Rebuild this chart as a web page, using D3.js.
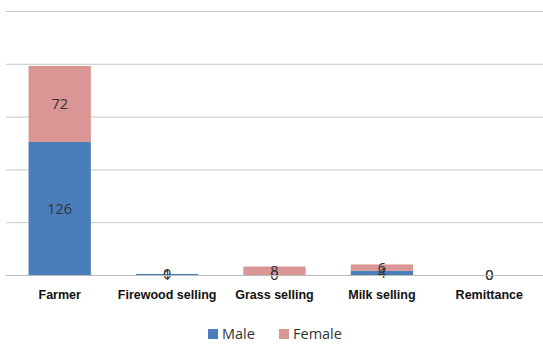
<!DOCTYPE html>
<html>
<head>
<meta charset="utf-8">
<script src="https://cdn.jsdelivr.net/npm/d3@7"></script>
<style>
    body { margin: 0; background: #fff; }
    svg { font-family: "Open Sans", "Liberation Sans", sans-serif; }
    .grid line { stroke: #c8c8c8; stroke-width: 1; }
    .cat-label { font-size: 12.5px; fill: #111; font-weight: 600; }
    .seg-label { font-size: 14.5px; fill: #333; }
    .legend text { font-size: 14.5px; fill: #333; }
</style>
</head>
<body>
<div id="chart"></div>
<script>
// data
const categories = ['Farmer', 'Firewood selling', 'Grass selling', 'Milk selling', 'Remittance'];
const male = [126, 1, 0, 4, 0];
const female = [72, 0, 8, 6, 0];
const seriesNames = ['Male', 'Female'];
const yTicks = [0, 50, 100, 150, 200, 250];

const colors = { Male: '#4a7ebb', Female: '#d99694' };

const width = 543, height = 348;
const margin = { top: 11, right: 0, bottom: 73, left: 6 };
const innerW = width - margin.left - margin.right;
const innerH = height - margin.top - margin.bottom;

const rows = categories.map((c, i) => ({ category: c, Male: male[i], Female: female[i] }));
const stacked = d3.stack().keys(seriesNames)(rows);

const svg = d3.select('#chart')
    .append('svg')
    .attr('width', width)
    .attr('height', height);

const chart = svg.append('g')
    .attr('transform', `translate(${margin.left},${margin.top})`);

const x = d3.scaleBand()
    .domain(categories)
    .range([0, innerW])
    .paddingInner(0.42)
    .paddingOuter(0.21);

const y = d3.scaleLinear()
    .domain([0, 250])
    .range([innerH, 0]);

// gridlines only, no axis line
chart.append('g')
    .attr('class', 'grid')
    .call(d3.axisLeft(y).tickValues(yTicks).tickSize(-innerW).tickFormat(''))
    .call(g => g.select('.domain').remove());

// bars
const layers = chart.selectAll('.layer')
    .data(stacked)
    .join('g')
    .attr('class', 'layer')
    .attr('fill', d => colors[d.key]);

layers.selectAll('rect')
    .data(d => d)
    .join('rect')
    .attr('x', d => x(d.data.category))
    .attr('y', d => y(d[1]))
    .attr('width', x.bandwidth())
    .attr('height', d => y(d[0]) - y(d[1]));

// value labels centered in each segment
stacked.forEach(layer => {
    chart.selectAll(null)
        .data(layer)
        .join('text')
        .attr('class', 'seg-label')
        .attr('x', d => x(d.data.category) + x.bandwidth() / 2)
        .attr('y', d => (y(d[0]) + y(d[1])) / 2)
        .attr('dy', '0.35em')
        .attr('text-anchor', 'middle')
        .text(d => d[1] - d[0]);
});

// category axis
const xAxisG = chart.append('g')
    .attr('transform', `translate(0,${innerH})`)
    .call(d3.axisBottom(x).tickSize(0).tickPadding(15));
xAxisG.select('.domain').attr('stroke', '#bbb');
xAxisG.selectAll('text').attr('class', 'cat-label').attr('font-family', null).attr('font-size', null);

// legend
const legend = svg.append('g').attr('class', 'legend')
    .attr('transform', 'translate(208,334)');
const items = [{ name: 'Male', x: 0 }, { name: 'Female', x: 71 }];
items.forEach(it => {
    legend.append('rect')
        .attr('x', it.x)
        .attr('y', -5)
        .attr('width', 10)
        .attr('height', 10)
        .attr('fill', colors[it.name]);
    legend.append('text')
        .attr('x', it.x + 14)
        .attr('y', 0)
        .attr('dy', '0.35em')
        .text(it.name);
});
</script>
</body>
</html>
